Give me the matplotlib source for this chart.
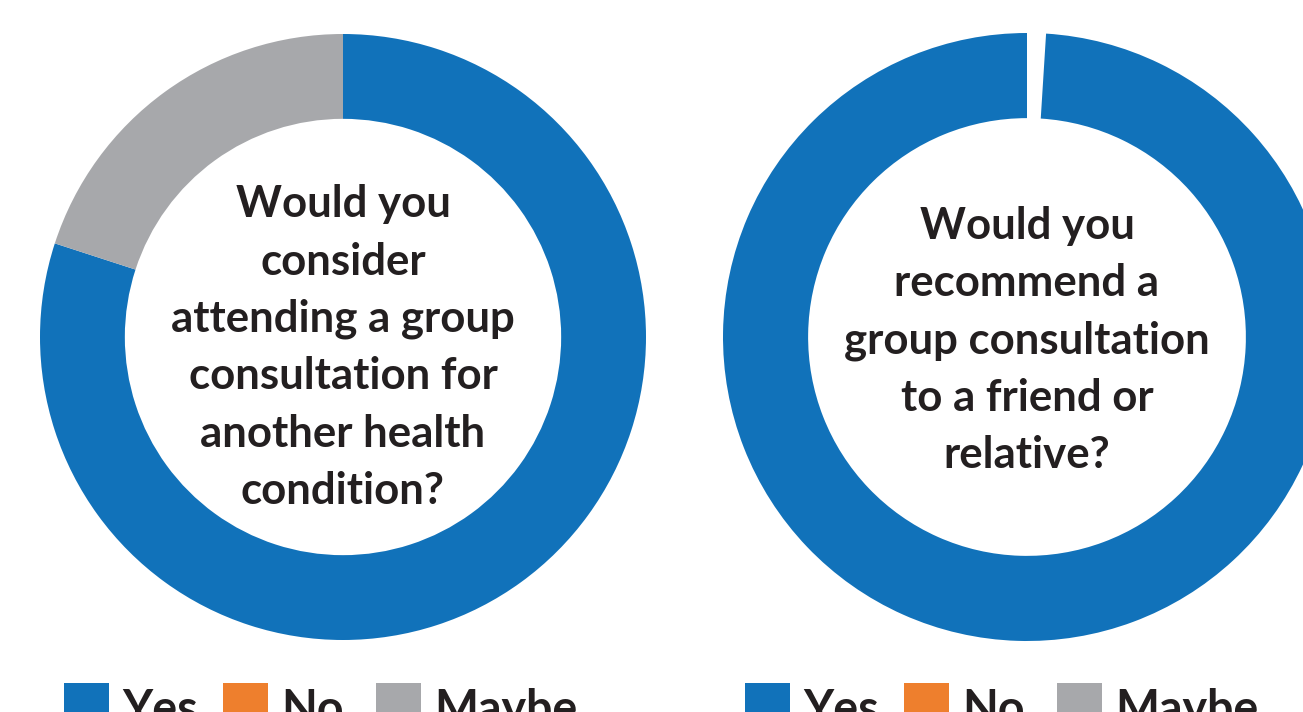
import matplotlib.pyplot as plt
from matplotlib.patches import Rectangle

plt.rcParams['font.family'] = ['Lato', 'DejaVu Sans']

# answer categories and colours
labels = ['Yes', 'No', 'Maybe']
colors = ['#1172ba', '#ee7f2d', '#a7a8ab']

# left chart: share of answers (%), drawn clockwise from 12 o'clock
left_values = [80, 0, 20]
left_question = 'Would you\nconsider\nattending a group\nconsultation for\nanother health\ncondition?'

# right chart: blank slice is the small white gap at the top
right_values = [99, 0, 0]
right_blank = 1
right_question = 'Would you\nrecommend a\ngroup consultation\nto a friend or\nrelative?'

text_color = '#231f20'

fig = plt.figure(figsize=(13.03, 7.12), dpi=100)
W, H = 1303, 712


def donut(cx, cy, r, values, blank, question, ty):
    ax = fig.add_axes([(cx - r) / W, (H - cy - r) / H, 2 * r / W, 2 * r / H])
    vals = [blank] + values
    cols = ['white'] + colors
    ax.pie(vals, colors=cols, startangle=90, counterclock=False, radius=1,
           wedgeprops=dict(width=0.28, linewidth=0))
    ax.set_xlim(-1, 1)
    ax.set_ylim(-1, 1)
    ax.set_aspect('equal')
    ax.axis('off')
    ax.text(0, ty, question, ha='center', va='center', fontsize=31.5,
            fontweight='bold', color=text_color, linespacing=1.52)
    return ax


def legend(x0):
    # squares 45px, text 13px right of each square
    offsets = [0, 159, 312]
    for off, lab, col in zip(offsets, labels, colors):
        x = x0 + off
        fig.add_artist(Rectangle((x / W, (H - 683 - 45) / H), 45 / W, 45 / H,
                                 transform=fig.transFigure, facecolor=col,
                                 edgecolor='none'))
        fig.text((x + 58) / W, (H - 724) / H, lab, ha='left', va='baseline',
                 fontsize=33.5, fontweight='bold', color=text_color)


donut(343, 337, 303, left_values, 0, left_question, -0.035)
donut(1027, 337, 304, right_values, right_blank, right_question, -0.012)
legend(64)
legend(745)

fig.savefig('out.png', dpi=100)
